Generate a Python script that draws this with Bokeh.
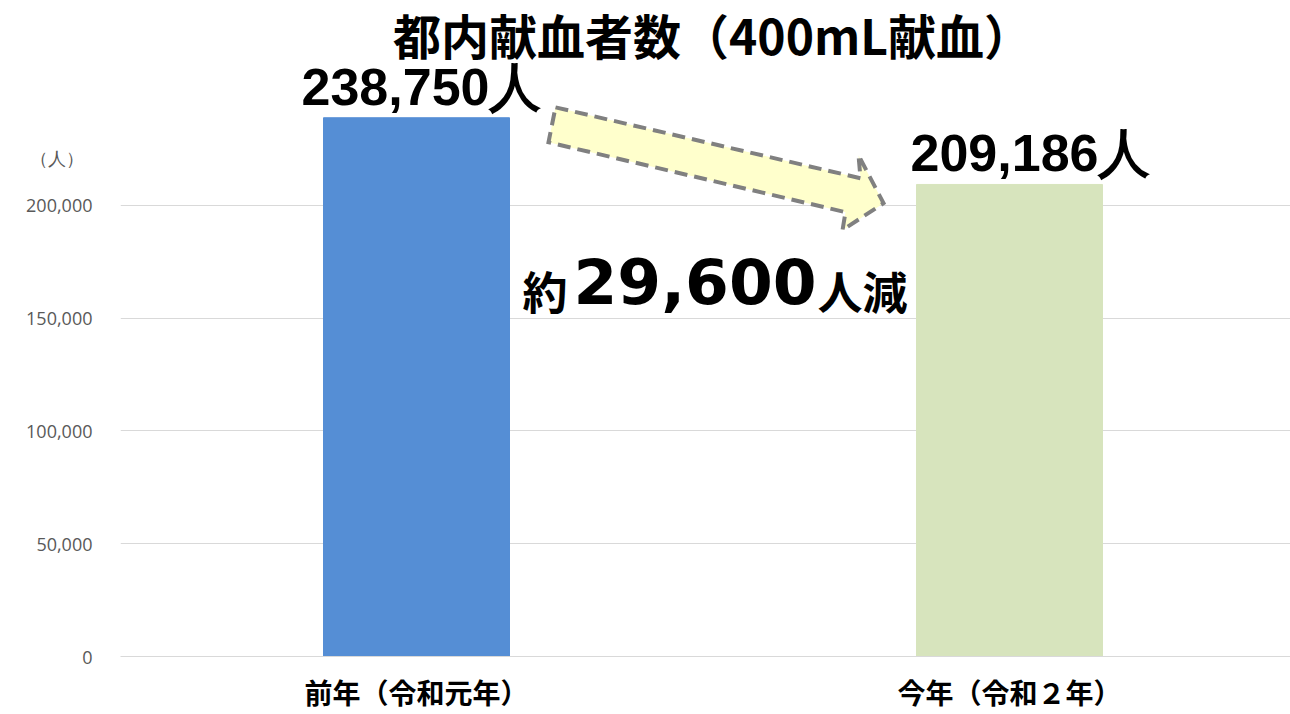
from bokeh.plotting import figure
from bokeh.models import Range1d, FixedTicker, ColumnDataSource
from bokeh.core.properties import value
from bokeh.embed import file_html
from bokeh.resources import INLINE

# ---- data ----
categories = ["前年（令和元年）", "今年（令和２年）"]
donors = [238750, 209186]
bar_colors = ["#558ED5", "#D7E4BD"]
y_ticks = [0, 50000, 100000, 150000, 200000]
title_text = "都内献血者数（400mL献血）"
unit_text = "（人）\u2002"

# ---- layout constants ----
W, H = 1290, 714
FL, FR, FT, FB = 120, 1290, 0, 657          # frame edges in px
X0PX, XSCALE = 416, 593                     # px of category 0, px per category
YPX = 113 / 50000                           # px per person

x_lo = (FL - X0PX) / XSCALE
x_hi = (FR - X0PX) / XSCALE
y_hi = (FB - FT) / YPX


def dx(px):
    return (px - X0PX) / XSCALE


def dy(py):
    return (FB - py) / YPX


p = figure(width=W, height=H, output_backend="svg", toolbar_location=None,
           x_range=Range1d(x_lo, x_hi), y_range=Range1d(0, y_hi),
           min_border_left=FL, min_border_right=0, min_border_top=0,
           min_border_bottom=H - FB)
p.outline_line_color = None
p.background_fill_color = "white"
p.border_fill_color = "white"

xs = list(range(len(categories)))
src = ColumnDataSource(dict(x=xs, top=donors, color=bar_colors,
                            label=[f"{v:,}人" for v in donors],
                            xoff=[5, 21]))
p.vbar(x="x", top="top", width=186 / XSCALE, color="color", source=src)

# axes
unit_y = dy(158)
p.yaxis.ticker = FixedTicker(ticks=y_ticks + [unit_y])
overrides = {t: f"{t:,}" for t in y_ticks}
overrides[unit_y] = unit_text
p.yaxis.major_label_overrides = overrides
p.yaxis.axis_line_color = None
p.yaxis.major_tick_line_color = None
p.yaxis.minor_tick_line_color = None
p.yaxis.major_label_standoff = 22
p.yaxis.major_label_text_font = "Open Sans"
p.yaxis.major_label_text_font_size = "18px"
p.yaxis.major_label_text_color = "#595959"

p.xaxis.ticker = FixedTicker(ticks=xs)
p.xaxis.major_label_overrides = {i: c for i, c in enumerate(categories)}
p.xaxis.axis_line_color = "#d9d9d9"
p.xaxis.axis_line_width = 1
p.xaxis.major_tick_line_color = None
p.xaxis.minor_tick_line_color = None
p.xaxis.major_label_standoff = 9
p.xaxis.major_label_text_font = "Noto Sans CJK JP"
p.xaxis.major_label_text_font_style = "bold"
p.xaxis.major_label_text_font_size = "28px"
p.xaxis.major_label_text_color = "black"

p.xgrid.grid_line_color = None
p.ygrid.ticker = FixedTicker(ticks=y_ticks)
p.ygrid.grid_line_color = "#d9d9d9"
p.ygrid.grid_line_width = 1

# value labels
p.text(x="x", y="top", text="label", source=src, x_offset="xoff", y_offset=-2,
       text_align="center", text_baseline="bottom",
       text_font=value("Liberation Sans"), text_font_style="bold",
       text_font_size="52px", text_color="black")

# arrow (decoration)
arrow_px = [(555, 107), (860, 178), (858, 155), (883, 203), (842, 230),
            (845, 212), (548, 142)]
p.patch([dx(a) for a, b in arrow_px], [dy(b) for a, b in arrow_px],
        fill_color="#FFFFCC", line_color="#808080", line_width=4,
        line_dash="13 7", line_join="miter")

# title
p.text(x=[dx(712)], y=[dy(34)], text=[title_text], text_align="center",
       text_baseline="middle", text_font=value("Noto Sans CJK JP"),
       text_font_style="bold", text_font_size="48px", text_color="black")

# difference annotation
diff = round(donors[0] - donors[1], -2)
p.text(x=[dx(522)], y=[dy(290)], text=["約"], text_align="left",
       text_baseline="middle", text_font=value("Noto Sans CJK JP"),
       text_font_style="bold", text_font_size="45px", text_color="black")
p.text(x=[dx(573)], y=[dy(281)], text=[f"{diff:,}"], text_align="left",
       text_baseline="middle", text_font=value("DejaVu Sans"),
       text_font_style="bold", text_font_size="63px", text_color="black")
p.text(x=[dx(817)], y=[dy(290)], text=["人減"], text_align="left",
       text_baseline="middle", text_font=value("Noto Sans CJK JP"),
       text_font_style="bold", text_font_size="45px", text_color="black")

open("out.html", "w").write(file_html(p, INLINE))
